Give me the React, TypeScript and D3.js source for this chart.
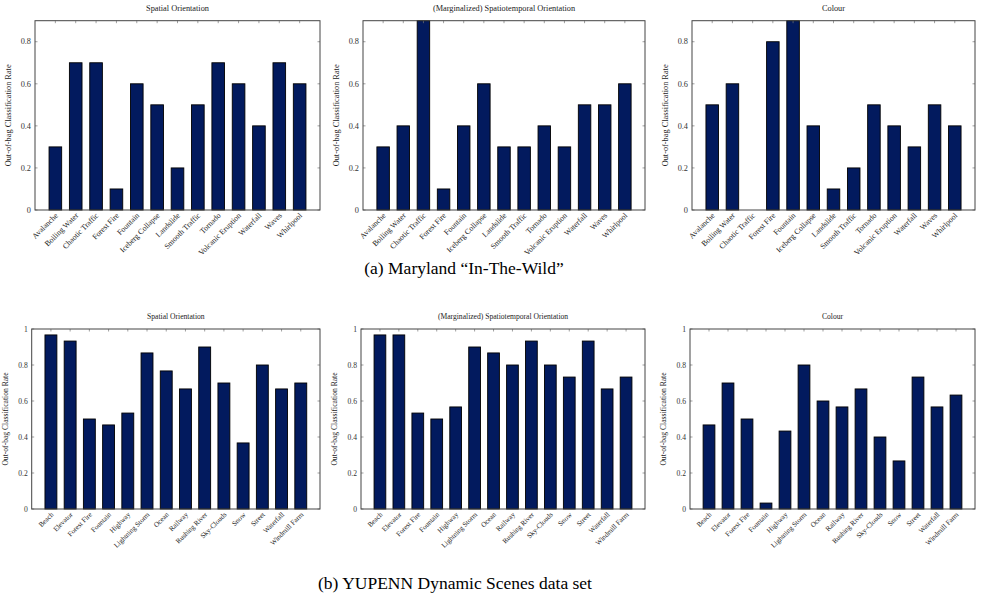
import React from 'react';
import * as d3 from 'd3';

// Maryland "In-The-Wild" classes
const marylandClasses = ['Avalanche', 'Boiling Water', 'Chaotic Traffic', 'Forest Fire', 'Fountain', 'Iceberg Collapse',
  'Landslide', 'Smooth Traffic', 'Tornado', 'Volcanic Eruption', 'Waterfall', 'Waves', 'Whirlpool'];
const marylandSpatial = [0.3, 0.7, 0.7, 0.1, 0.6, 0.5, 0.2, 0.5, 0.7, 0.6, 0.4, 0.7, 0.6];
const marylandSpatiotemporal = [0.3, 0.4, 0.9, 0.1, 0.4, 0.6, 0.3, 0.3, 0.4, 0.3, 0.5, 0.5, 0.6];
const marylandColour = [0.5, 0.6, 0, 0.8, 0.9, 0.4, 0.1, 0.2, 0.5, 0.4, 0.3, 0.5, 0.4];

// YUPENN classes
const yupennClasses = ['Beach', 'Elevator', 'Forest Fire', 'Fountain', 'Highway', 'Lightning Storm', 'Ocean',
  'Railway', 'Rushing River', 'Sky-Clouds', 'Snow', 'Street', 'Waterfall', 'Windmill Farm'];
const yupennSpatial = [0.967, 0.933, 0.5, 0.467, 0.533, 0.867, 0.767, 0.667, 0.9, 0.7, 0.367, 0.8, 0.667, 0.7];
const yupennSpatiotemporal = [0.967, 0.967, 0.533, 0.5, 0.567, 0.9, 0.867, 0.8, 0.933, 0.8, 0.733, 0.933, 0.667, 0.733];
const yupennColour = [0.467, 0.7, 0.5, 0.033, 0.433, 0.8, 0.6, 0.567, 0.667, 0.4, 0.267, 0.733, 0.567, 0.633];

const titles = ['Spatial Orientation', '(Marginalized) Spatiotemporal Orientation', 'Colour'];
const topTicks = [0, 0.2, 0.4, 0.6, 0.8];
const bottomTicks = [0, 0.2, 0.4, 0.6, 0.8, 1];

const FONT = '"Liberation Serif", "DejaVu Serif", serif';
const BAR = '#021a5e';

function Panel({ x0, x1, y0, y1, classes, values, yMax, ticks, title, fs }) {
  const x = d3.scaleLinear().domain([0, classes.length + 1]).range([x0, x1]);
  const y = d3.scaleLinear().domain([0, yMax]).range([y1, y0]);
  const bw = (x(1) - x(0)) * 0.62;
  const fmt = (v) => (v === 0 ? '0' : v === 1 ? '1' : d3.format('.1f')(v));
  return (
    <g>
      <text x={(x0 + x1) / 2} y={y0 - 10} fontSize={fs} textAnchor="middle" fill="#222">{title}</text>
      {values.map((v, i) => (
        <rect key={i} x={x(i + 1) - bw / 2} y={y(v)} width={bw} height={y1 - y(v)}
          fill={BAR} stroke="#000" strokeWidth={0.9} />
      ))}
      {/* y ticks, left and right */}
      {ticks.map((t) => (
        <g key={t}>
          <line x1={x0} x2={x0 + 2.5} y1={y(t)} y2={y(t)} stroke="#777" strokeWidth={0.7} />
          <line x1={x1} x2={x1 - 2.5} y1={y(t)} y2={y(t)} stroke="#777" strokeWidth={0.7} />
          <text x={x0 - 4} y={y(t) + fs * 0.33} fontSize={fs} textAnchor="end" fill="#333">{fmt(t)}</text>
        </g>
      ))}
      {/* x ticks, top */}
      {classes.map((c, i) => (
        <g key={c}>
          <line x1={x(i + 1)} x2={x(i + 1)} y1={y0} y2={y0 + 2.5} stroke="#777" strokeWidth={0.7} />
          <text transform={`translate(${x(i + 1) + 3},${y1 + 6}) rotate(-45)`} fontSize={fs - 0.5}
            textAnchor="end" fill="#222">{c}</text>
        </g>
      ))}
      <rect x={x0} y={y0} width={x1 - x0} height={y1 - y0} fill="none" stroke="#444" strokeWidth={1} />
      <text transform={`translate(${x0 - 24},${(y0 + y1) / 2}) rotate(-90)`} fontSize={fs}
        textAnchor="middle" fill="#222">Out-of-bag Classification Rate</text>
    </g>
  );
}

export default function App() {
  const topX = [[35, 320], [363, 645], [692, 975]];
  const botX = [[31.7, 320], [361, 645], [690, 975]];
  const topVals = [marylandSpatial, marylandSpatiotemporal, marylandColour];
  const botVals = [yupennSpatial, yupennSpatiotemporal, yupennColour];
  return (
    <svg width={985} height={600} style={{ position: 'absolute', left: 0, top: 0, background: '#fff' }}
      fontFamily={FONT}>
      {topX.map(([a, b], i) => (
        <Panel key={'t' + i} x0={a} x1={b} y0={20.7} y1={210} classes={marylandClasses} values={topVals[i]}
          yMax={0.9} ticks={topTicks} title={titles[i]} fs={8.3} />
      ))}
      {botX.map(([a, b], i) => (
        <Panel key={'b' + i} x0={a} x1={b} y0={329} y1={509} classes={yupennClasses} values={botVals[i]}
          yMax={1} ticks={bottomTicks} title={titles[i]} fs={7.6} />
      ))}
      <text x={464} y={274} fontSize={17.5} textAnchor="middle" fill="#000">(a)  Maryland “In-The-Wild”</text>
      <text x={455} y={589} fontSize={17.5} textAnchor="middle" fill="#000">(b)  YUPENN Dynamic Scenes data set</text>
    </svg>
  );
}
